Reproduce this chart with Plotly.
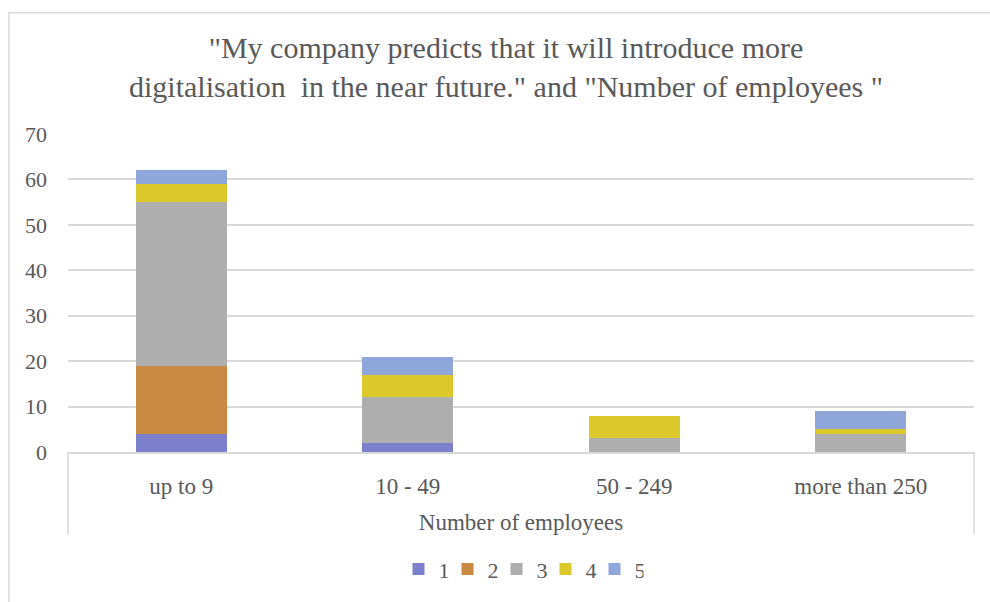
import plotly.graph_objects as go

categories = ["up to 9", "10 - 49", "50 - 249", "more than 250"]
series_names = ["1", "2", "3", "4", "5"]
s1 = [4, 2, 0, 0]
s2 = [15, 0, 0, 0]
s3 = [36, 10, 3, 4]
s4 = [4, 5, 5, 1]
s5 = [3, 4, 0, 4]
series_values = [s1, s2, s3, s4, s5]
colors = ["#7c80cc", "#c98a44", "#aeaeae", "#dcc82a", "#8fa6da"]
y_ticks = [0, 10, 20, 30, 40, 50, 60, 70]

title_text = ('"My company predicts that it will introduce more<br>'
              'digitalisation  in the near future." and "Number of employees "')

FONT = "Liberation Serif"
TXT = "#595959"
GRID = "#d9d9d9"

fig = go.Figure()
for name, vals, col in zip(series_names, series_values, colors):
    fig.add_trace(go.Bar(
        x=categories, y=vals, name=name,
        marker=dict(color=col, line=dict(width=0)),
        width=0.4,
    ))

W, H = 990, 602
L, R, T, B = 68, 16, 134, 148
pw = W - L - R
ph = H - T - B

def px_x(p):
    return (p - L) / pw

def px_y(p):
    return (H - B - p) / ph

shapes = [
    dict(type="rect", xref="paper", yref="paper",
         x0=px_x(9), x1=px_x(1005), y0=px_y(615), y1=px_y(12),
         line=dict(color=GRID, width=1.5), fillcolor="rgba(0,0,0,0)", layer="below"),
    dict(type="line", xref="paper", yref="paper",
         x0=0, x1=0, y0=0, y1=px_y(537), line=dict(color=GRID, width=1.5)),
    dict(type="line", xref="paper", yref="paper",
         x0=1, x1=1, y0=0, y1=px_y(537), line=dict(color=GRID, width=1.5)),
]

fig.update_layout(
    width=W, height=H,
    margin=dict(l=L, r=R, t=T, b=B),
    paper_bgcolor="white", plot_bgcolor="white",
    barmode="stack",
    font=dict(family=FONT, color=TXT, size=22),
    title=dict(text=title_text, x=506 / W, xanchor="center",
               y=1 - 58 / H, yanchor="middle",
               font=dict(size=30, color=TXT, family=FONT)),
    xaxis=dict(
        showline=True, linecolor=GRID, linewidth=1.5,
        showgrid=False, ticks="",
        tickfont=dict(size=23, color=TXT, family=FONT),
        ticklabelstandoff=13,
        title=dict(text="Number of employees", font=dict(size=23, color=TXT, family=FONT), standoff=16),
    ),
    yaxis=dict(
        range=[0, 70], tickvals=y_ticks,
        showgrid=True, gridcolor=GRID, gridwidth=1.5,
        zeroline=False, showline=False, ticks="",
        tickfont=dict(size=22, color=TXT, family=FONT),
        ticklabelstandoff=20,
    ),
    legend=dict(
        orientation="h", x=0.5, xanchor="center", y=px_y(572), yanchor="middle",
        font=dict(size=22, color=TXT, family=FONT), traceorder="normal",
        itemwidth=30, entrywidth=4, entrywidthmode="pixels",
    ),
    shapes=shapes,
    bargap=0.6,
)

fig.write_html("out.html")
